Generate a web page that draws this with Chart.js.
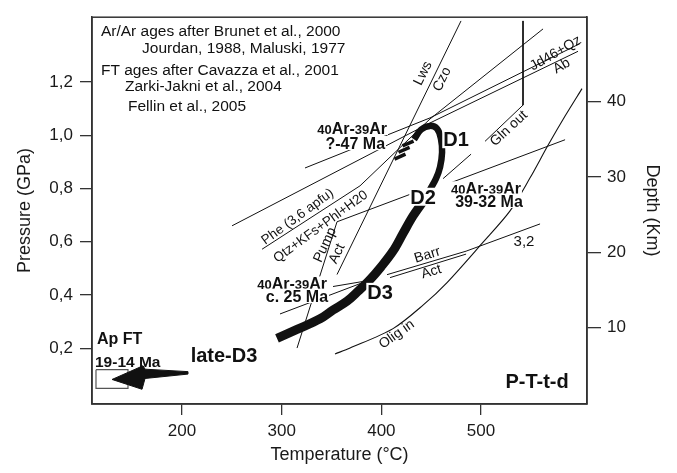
<!DOCTYPE html>
<html><head><meta charset="utf-8">
<script src="https://cdn.jsdelivr.net/npm/chart.js@4.4.1/dist/chart.umd.min.js"></script>
<style>html,body{margin:0;padding:0;background:#fff;}#wrap{width:677px;height:473px;}</style>
</head><body><div id="wrap"><canvas id="c" width="677" height="473"></canvas></div>
<script>
// ---- axes ----
const T_RANGE = [109.7, 606.3];
const P_RANGE = [-0.009, 1.443];
const DEPTH_RANGE = [-0.13, 51.17];
const T_TICKS = [200, 300, 400, 500];
const P_TICKS = [0.2, 0.4, 0.6, 0.8, 1.0, 1.2];
const DEPTH_TICKS = [10, 20, 30, 40];

// ---- reaction curves [T (°C), P (GPa)] ----
const lwsCzo = [[479.9, 1.429], [355.5, 0.477]];
const pheQtz = [[280.3, 0.572], [378.6, 0.810], [448.8, 1.061], [562.2, 1.399]];
const jd46Qz = [[323.4, 0.877], [448.8, 1.065], [599.3, 1.344]];
const albite = [[250.2, 0.660], [448.8, 1.046], [597.3, 1.315]];
const glnOut = [[542.1, 1.429], [542.1, 1.113], [504.0, 0.977]];
const shortD1 = [[461.9, 0.837], [490.0, 0.929]];
const line3932 = [[469.9, 0.822], [584.3, 0.983]];
const oligInT = [353.5, 368.6, 411.7, 441.8, 465.9, 501.0, 529.1, 549.2, 567.2, 584.3, 601.3];
const oligInP = [0.179, 0.201, 0.274, 0.362, 0.447, 0.594, 0.716, 0.840, 0.962, 1.072, 1.175];
const phe32 = [[405.7, 0.4765], [485.0, 0.5647], [559.2, 0.667]];
const barrAct = [[408.7, 0.4654], [485.0, 0.5537]];
const leaderD3a = [[298.3, 0.329], [381.6, 0.447]];
const leaderD3b = [[351.5, 0.432], [381.6, 0.451]];
const pumpAct = [[428.8, 0.778], [355.5, 0.675], [315.4, 0.201]];

// ---- P-T path ----
const pathArch = [[432.8, 0.984], [439.8, 1.021], [448.8, 1.035], [455.9, 1.024], [459.9, 0.984], [460.9, 0.936], [458.9, 0.881], [454.8, 0.837], [448.8, 0.796], [442.8, 0.756]];
const pathLower = [[442.8, 0.756], [431.8, 0.697], [421.7, 0.631], [411.7, 0.565], [399.7, 0.506], [388.6, 0.458], [376.6, 0.414], [365.6, 0.377], [351.5, 0.344], [338.5, 0.311], [315.4, 0.271], [295.3, 0.2375]];
const hatch1 = [[413.2, 0.910], [424.2, 0.929]];
const hatch2 = [[417.2, 0.936], [428.3, 0.954]];
const hatch3 = [[421.2, 0.960], [432.3, 0.978]];
const arrowShape = [[206.0, 0.1125], [162.9, 0.1217], [160.9, 0.1346], [129.8, 0.0831], [159.9, 0.0463], [162.9, 0.0868], [206.0, 0.1033], [206.0, 0.1125]];
const apFtBox = [[113.7, 0.1199], [145.8, 0.1199], [145.8, 0.0500], [113.7, 0.0500], [113.7, 0.1199]];

const FONT = '"Liberation Sans", Arial, Helvetica, sans-serif';
const toXY = a => a.map(p => ({x: p[0], y: p[1]}));
function line(data, w, opts) {
  return Object.assign({data: toXY(data), showLine: true, borderColor: '#111', backgroundColor: '#111',
    borderWidth: w, pointRadius: 0, pointHoverRadius: 0, fill: false, tension: 0}, opts || {});
}

const datasets = [
  line(lwsCzo, 1), line(pheQtz, 1), line(jd46Qz, 1), line(albite, 1), line(glnOut, 1),
  line(shortD1, 1), line(line3932, 1),
  line(oligInT.map((t, i) => [t, oligInP[i]]), 1.1, {tension: 0.3}),
  line(phe32, 1), line(barrAct, 1), line(leaderD3a, 1), line(leaderD3b, 1), line(pumpAct, 1),
  line(pathArch, 6.5, {tension: 0.4, borderCapStyle: 'butt'}),
  line(pathLower, 9, {tension: 0.35, borderCapStyle: 'butt'}),
  line(hatch1, 3.5), line(hatch2, 3.5), line(hatch3, 3.5),
  line(arrowShape, 1, {fill: 'shape', backgroundColor: '#111'}),
  line(apFtBox, 1.2, {borderColor: '#555'})
];

// ---- text annotations ----
const SUP = 13, BIG = 16;
const arParts = [{t: '40', s: SUP}, {t: 'Ar-', s: BIG}, {t: '39', s: SUP}, {t: 'Ar', s: BIG}];
const LABELS = [
  {text: 'Ar/Ar ages after Brunet et al., 2000', T: 118.7, P: 1.3938, size: 15.5, align: 'left'},
  {text: 'Jourdan, 1988, Maluski, 1977', T: 159.9, P: 1.3294, size: 15.5, align: 'left'},
  {text: 'FT ages after Cavazza et al., 2001', T: 118.7, P: 1.2485, size: 15.5, align: 'left'},
  {text: 'Zarki-Jakni et al., 2004', T: 142.8, P: 1.1879, size: 15.5, align: 'left'},
  {text: 'Fellin et al., 2005', T: 145.8, P: 1.1103, size: 15.5, align: 'left'},
  {parts: arParts, T: 405.7, P: 1.028, align: 'right', bg: true},
  {text: '?-47 Ma', T: 403.7, P: 0.971, size: 16, bold: true, align: 'right', bg: true},
  {text: 'D1', T: 474.9, P: 0.985, size: 20, bold: true, bg: true},
  {text: 'D2', T: 441.8, P: 0.769, size: 20, bold: true, bg: true},
  {text: 'D3', T: 398.7, P: 0.412, size: 20, bold: true, bg: true},
  {parts: arParts, T: 505.0, P: 0.800, align: 'center', bg: true},
  {text: '39-32 Ma', T: 508.0, P: 0.754, size: 16, bold: true, bg: true},
  {parts: arParts, T: 345.5, P: 0.443, align: 'right', bg: true},
  {text: 'c. 25 Ma', T: 346.5, P: 0.397, size: 16, bold: true, align: 'right', bg: true},
  {text: 'late-D3', T: 242.1, P: 0.177, size: 20, bold: true},
  {text: 'Ap FT', T: 114.7, P: 0.236, size: 16, bold: true, align: 'left'},
  {text: '19-14 Ma', T: 112.7, P: 0.152, size: 15.5, bold: true, align: 'left'},
  {text: 'P-T-t-d', T: 556.2, P: 0.0794, size: 20, bold: true},
  {text: '3,2', T: 543.1, P: 0.603, size: 15},
  {text: 'Lws', T: 440.8, P: 1.2338, size: 14, rot: -64},
  {text: 'Czo', T: 459.9, P: 1.2118, size: 14, rot: -64},
  {text: 'Jd46+Qz', T: 574.2, P: 1.311, size: 14, rot: -30},
  {text: 'Ab', T: 580.3, P: 1.2632, size: 14, rot: -30},
  {text: 'Gln out', T: 527.1, P: 1.028, size: 14, rot: -43},
  {text: 'Phe (3,6 apfu)', T: 315.4, P: 0.697, size: 13.5, rot: -36},
  {text: 'Qtz+KFs+Phl+H20', T: 338.5, P: 0.660, size: 13.5, rot: -36},
  {text: 'Pump', T: 342.5, P: 0.590, size: 14, rot: -65},
  {text: 'Act', T: 354.5, P: 0.557, size: 14, rot: -65},
  {text: 'Barr', T: 445.8, P: 0.554, size: 14, rot: -17},
  {text: 'Act', T: 449.8, P: 0.491, size: 14, rot: -17},
  {text: 'Olig in', T: 414.7, P: 0.256, size: 14, rot: -35}
];

function fontStr(size, bold) { return (bold ? 'bold ' : '') + size + 'px ' + FONT; }

const annot = {
  id: 'annot',
  afterDatasetsDraw(chart) {
    const {ctx, chartArea: a, scales: {x, y}} = chart;
    ctx.save();
    ctx.strokeStyle = '#333'; ctx.lineWidth = 1.5;
    ctx.strokeRect(a.left, a.top, a.right - a.left, a.bottom - a.top);
    for (const L of LABELS) {
      const px = x.getPixelForValue(L.T), py = y.getPixelForValue(L.P);
      ctx.save();
      ctx.translate(px, py);
      if (L.rot) ctx.rotate(L.rot * Math.PI / 180);
      const parts = L.parts || [{t: L.text, s: L.size}];
      const bold = L.parts ? true : !!L.bold;
      let w = 0, h = 0;
      for (const p of parts) { ctx.font = fontStr(p.s, bold); w += ctx.measureText(p.t).width; h = Math.max(h, p.s); }
      const align = L.align || 'center';
      let x0 = align === 'left' ? 0 : align === 'right' ? -w : -w / 2;
      if (L.bg) { ctx.fillStyle = '#fff'; ctx.fillRect(x0 - 1, -h * 0.45, w + 2, h * 0.9); }
      ctx.fillStyle = '#111'; ctx.textAlign = 'left'; ctx.textBaseline = 'alphabetic';
      const base = h * 0.36;
      for (const p of parts) {
        ctx.font = fontStr(p.s, bold);
        ctx.fillText(p.t, x0, base);
        x0 += ctx.measureText(p.t).width;
      }
      ctx.restore();
    }
    ctx.restore();
  }
};

const tickFont = {family: FONT, size: 17};
const titleFont = {family: FONT, size: 18};
const gridOpts = len => ({display: true, drawOnChartArea: false, drawTicks: true, tickLength: len, color: '#333', lineWidth: 1.3});
const borderOpts = {display: true, color: '#333', width: 1.5};

new Chart(document.getElementById('c'), {
  type: 'scatter',
  data: {datasets},
  options: {
    responsive: false, animation: false, devicePixelRatio: 1,
    layout: {padding: {top: 9, left: 0, right: 0, bottom: 0}},
    plugins: {legend: {display: false}, tooltip: {enabled: false}},
    scales: {
      x: {type: 'linear', position: 'bottom', min: T_RANGE[0], max: T_RANGE[1],
        afterBuildTicks: s => { s.ticks = T_TICKS.map(v => ({value: v})); },
        afterFit: s => { s.height = 69; },
        grid: gridOpts(11), border: borderOpts,
        ticks: {font: tickFont, color: '#1a1a1a', padding: 6, maxRotation: 0, callback: v => String(v)},
        title: {display: true, text: 'Temperature (°C)', font: titleFont, color: '#1a1a1a', padding: {top: 0, bottom: 7}}},
      y: {type: 'linear', position: 'left', min: P_RANGE[0], max: P_RANGE[1],
        afterBuildTicks: s => { s.ticks = P_TICKS.map(v => ({value: v})); },
        afterFit: s => { s.width = 92; },
        grid: gridOpts(12), border: borderOpts,
        ticks: {font: tickFont, color: '#1a1a1a', padding: 7, callback: v => v.toFixed(1).replace('.', ',')},
        title: {display: true, text: 'Pressure (GPa)', font: titleFont, color: '#1a1a1a', padding: {top: 14, bottom: 0}}},
      y2: {type: 'linear', position: 'right', axis: 'y', min: DEPTH_RANGE[0], max: DEPTH_RANGE[1],
        afterBuildTicks: s => { s.ticks = DEPTH_TICKS.map(v => ({value: v})); },
        afterFit: s => { s.width = 90; },
        grid: gridOpts(14), border: borderOpts,
        ticks: {font: tickFont, color: '#1a1a1a', padding: 6, callback: v => String(v)},
        title: {display: true, text: 'Depth (Km)', font: titleFont, color: '#1a1a1a', padding: {top: 14, bottom: 0}}}
    }
  },
  plugins: [annot]
});
</script></body></html>
